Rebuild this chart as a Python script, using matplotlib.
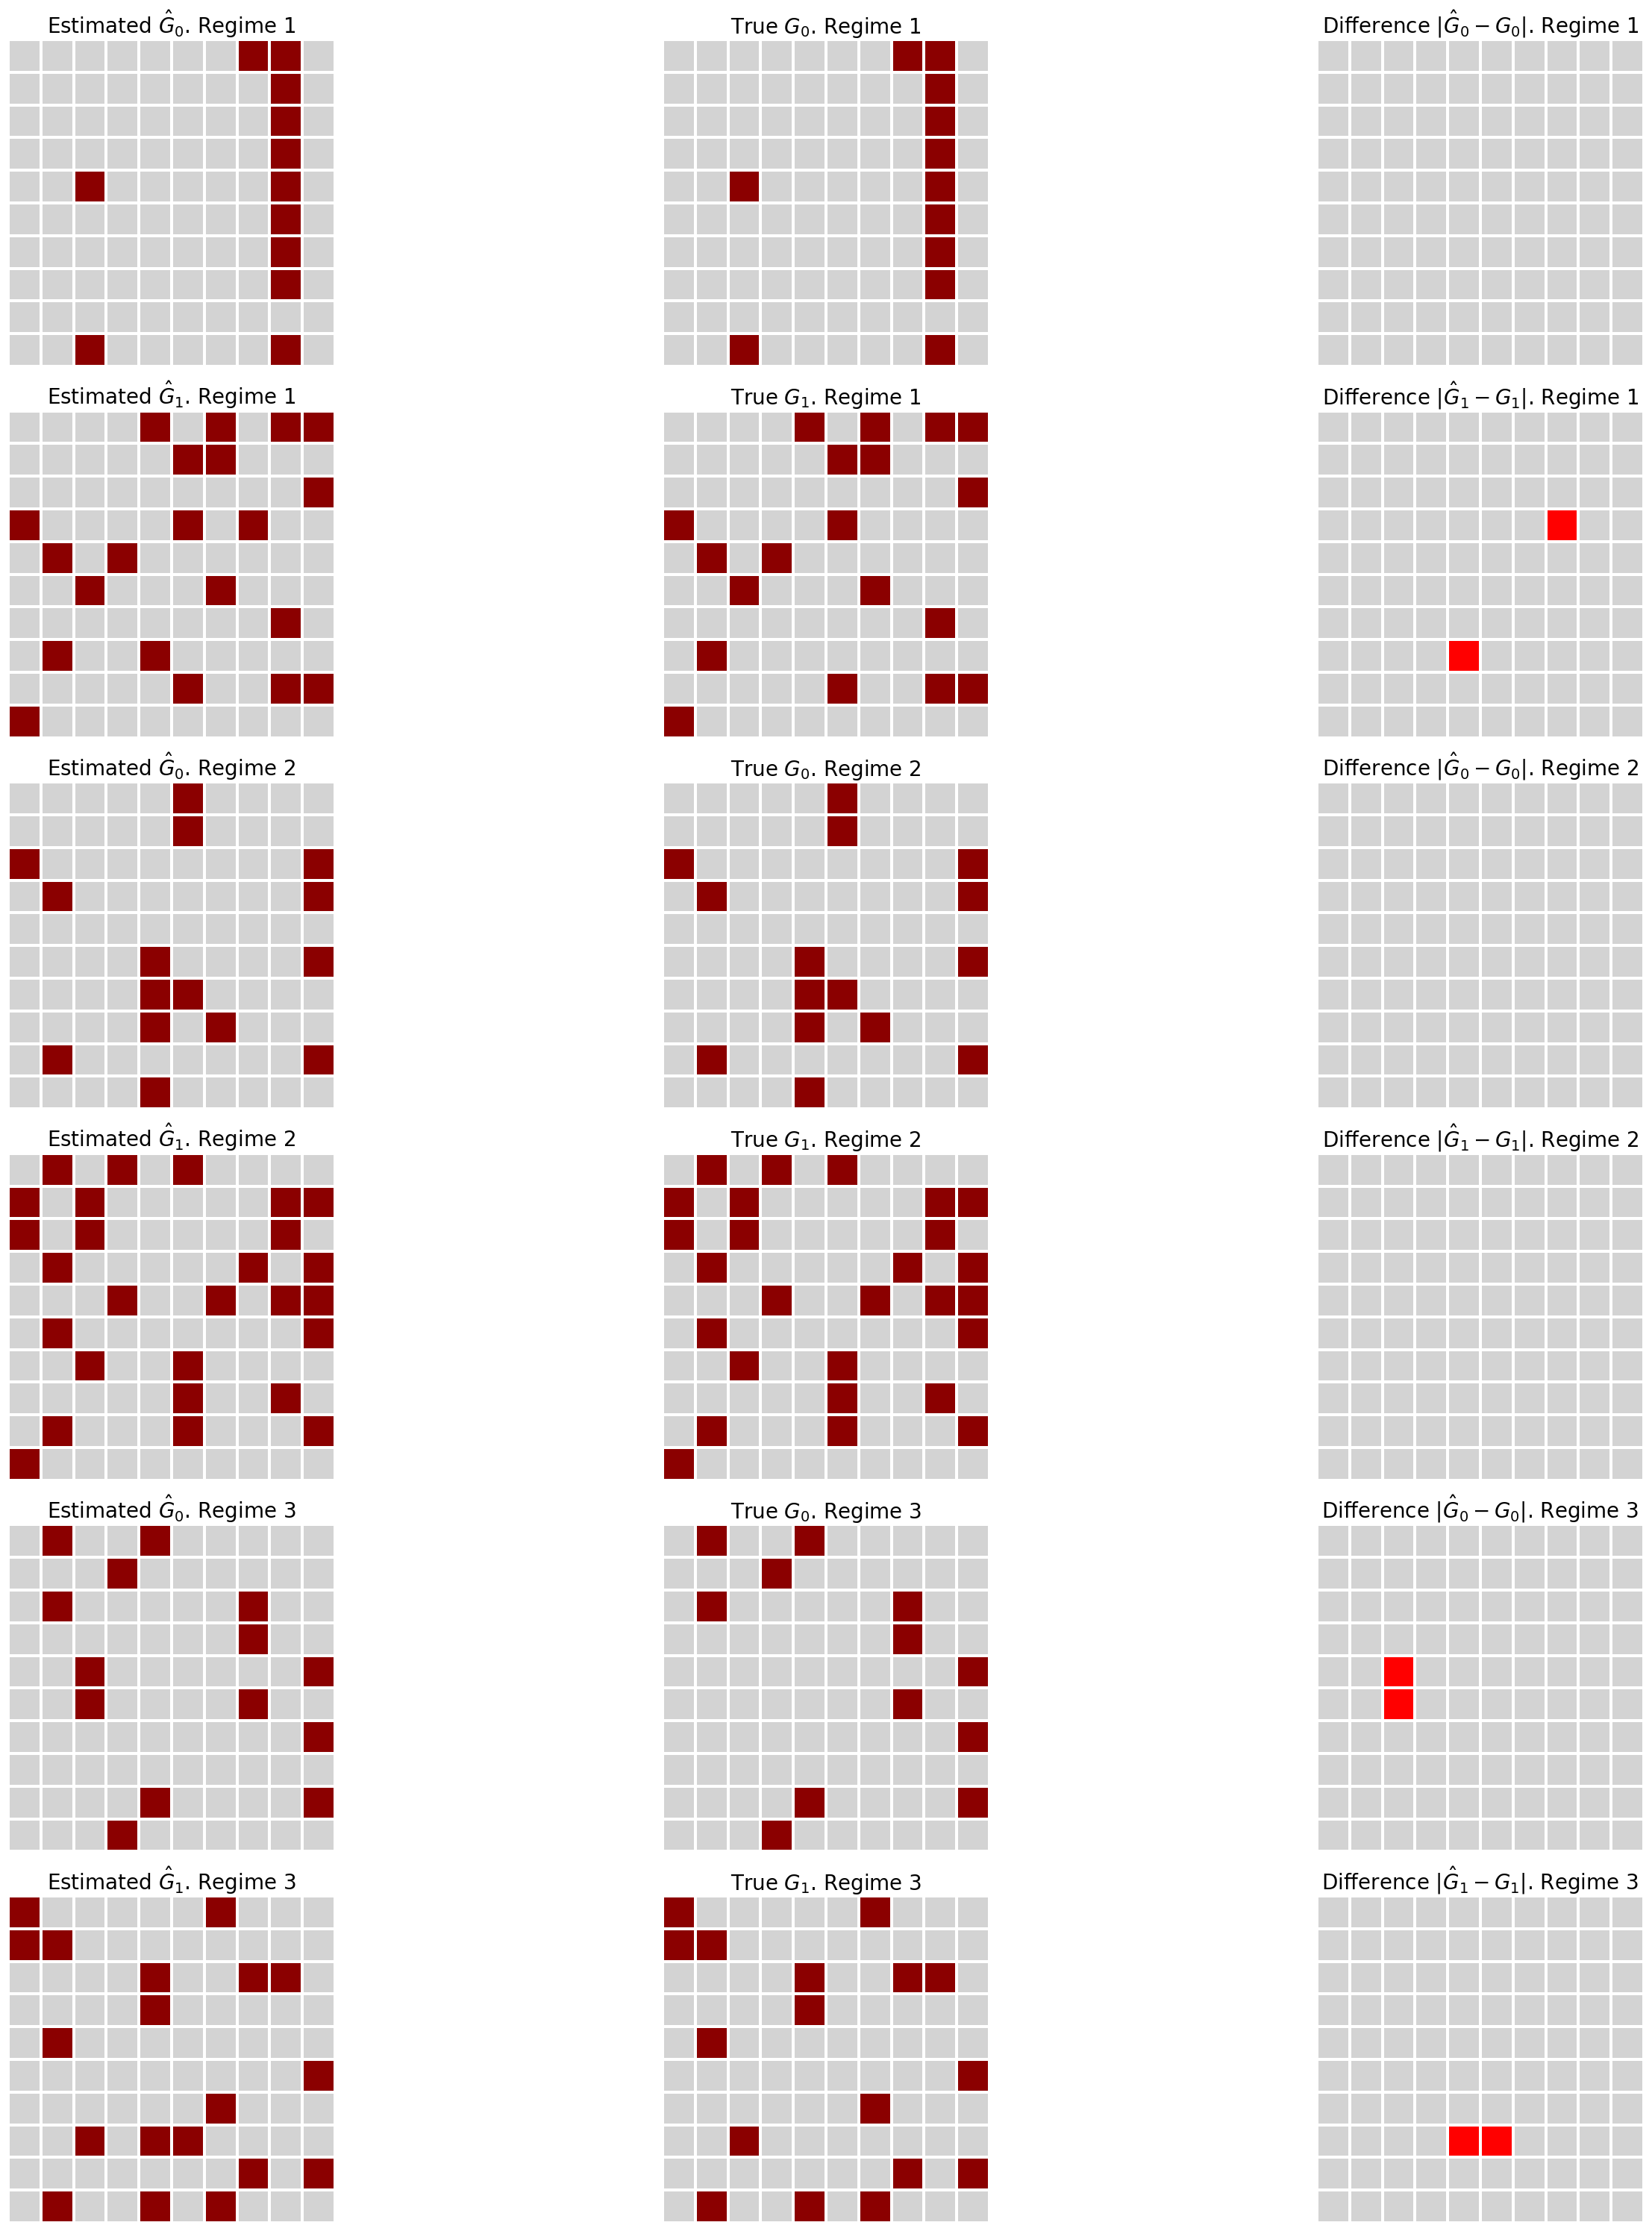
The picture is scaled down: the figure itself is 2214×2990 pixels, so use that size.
import numpy as np
import matplotlib
matplotlib.use("Agg")
import matplotlib.pyplot as plt
from matplotlib.colors import ListedColormap

# adjacency matrices, one string per row (1 = edge)
est_G0_r1 = ["0000000110", "0000000010", "0000000010", "0000000010", "0010000010",
             "0000000010", "0000000010", "0000000010", "0000000000", "0010000010"]
true_G0_r1 = ["0000000110", "0000000010", "0000000010", "0000000010", "0010000010",
              "0000000010", "0000000010", "0000000010", "0000000000", "0010000010"]

est_G1_r1 = ["0000101011", "0000011000", "0000000001", "1000010100", "0101000000",
             "0010001000", "0000000010", "0100100000", "0000010011", "1000000000"]
true_G1_r1 = ["0000101011", "0000011000", "0000000001", "1000010000", "0101000000",
              "0010001000", "0000000010", "0100000000", "0000010011", "1000000000"]

est_G0_r2 = ["0000010000", "0000010000", "1000000001", "0100000001", "0000000000",
             "0000100001", "0000110000", "0000101000", "0100000001", "0000100000"]
true_G0_r2 = ["0000010000", "0000010000", "1000000001", "0100000001", "0000000000",
              "0000100001", "0000110000", "0000101000", "0100000001", "0000100000"]

est_G1_r2 = ["0101010000", "1010000011", "1010000010", "0100000101", "0001001011",
             "0100000001", "0010010000", "0000010010", "0100010001", "1000000000"]
true_G1_r2 = ["0101010000", "1010000011", "1010000010", "0100000101", "0001001011",
              "0100000001", "0010010000", "0000010010", "0100010001", "1000000000"]

est_G0_r3 = ["0100100000", "0001000000", "0100000100", "0000000100", "0010000001",
             "0010000100", "0000000001", "0000000000", "0000100001", "0001000000"]
true_G0_r3 = ["0100100000", "0001000000", "0100000100", "0000000100", "0000000001",
              "0000000100", "0000000001", "0000000000", "0000100001", "0001000000"]

est_G1_r3 = ["1000001000", "1100000000", "0000100110", "0000100000", "0100000000",
             "0000000001", "0000001000", "0010110000", "0000000101", "0100101000"]
true_G1_r3 = ["1000001000", "1100000000", "0000100110", "0000100000", "0100000000",
              "0000000001", "0000001000", "0010000000", "0000000101", "0100101000"]

regimes = [1, 2, 3]
estimated = [[est_G0_r1, est_G1_r1], [est_G0_r2, est_G1_r2], [est_G0_r3, est_G1_r3]]
true = [[true_G0_r1, true_G1_r1], [true_G0_r2, true_G1_r2], [true_G0_r3, true_G1_r3]]


def to_arr(rows):
    return np.array([[int(c) for c in r] for r in rows])


cmap_graph = ListedColormap(["lightgrey", "darkred"])
cmap_diff = ListedColormap(["lightgrey", "red"])

W, H = 2214, 2990
fig = plt.figure(figsize=(W / 100, H / 100), dpi=100)

size = 438
lefts = [11, 888, 1765]
top0, pitch = 53, 497.6


def draw(ax, mat, cmap, title):
    ax.pcolormesh(mat, cmap=cmap, vmin=0, vmax=1, edgecolors="white", linewidth=1.5)
    ax.set_xlim(0, mat.shape[1])
    ax.set_ylim(mat.shape[0], 0)
    ax.set_aspect("equal")
    ax.axis("off")
    ax.set_title(title, fontsize=20)


row = 0
for k, reg in enumerate(regimes):
    for lag in range(2):
        est = to_arr(estimated[k][lag])
        tru = to_arr(true[k][lag])
        diff = np.abs(est - tru)
        top = top0 + row * pitch
        bottom = 1 - (top + size) / H
        axes = [fig.add_axes([l / W, bottom, size / W, size / H]) for l in lefts]
        draw(axes[0], est, cmap_graph, r"Estimated $\hat{G}_%d$. Regime %d" % (lag, reg))
        draw(axes[1], tru, cmap_graph, r"True $G_%d$. Regime %d" % (lag, reg))
        draw(axes[2], diff, cmap_diff,
             r"Difference $|\hat{G}_%d - G_%d|$. Regime %d" % (lag, lag, reg))
        row += 1

fig.savefig("out.png", dpi=100)
